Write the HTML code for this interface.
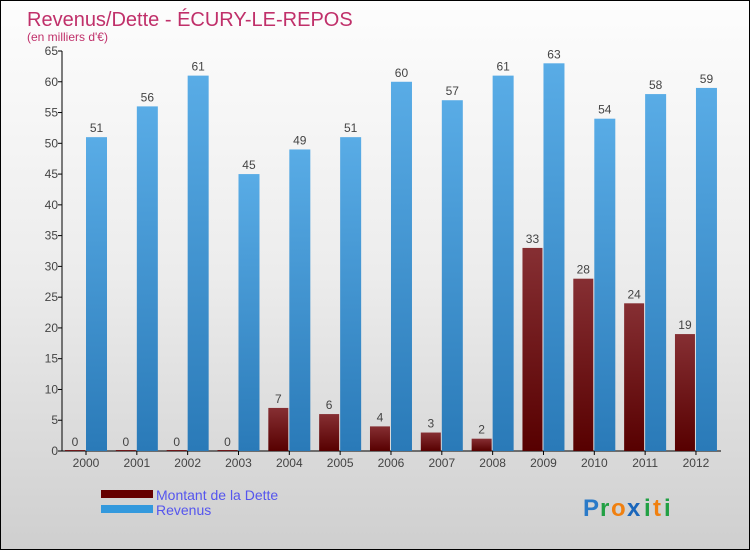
<!DOCTYPE html>
<html><head><meta charset="utf-8">
<style>
body{margin:0;}
#wrap{width:750px;height:550px;position:relative;box-sizing:border-box;border:1px solid #000;background:linear-gradient(#fdfdfd 0%,#ececec 50%,#cfcfcf 100%);font-family:"Liberation Sans",sans-serif;overflow:hidden;}
svg{position:absolute;left:0;top:0;}
</style></head><body>
<div id="wrap">
<svg id="chart" width="750" height="550">
<defs>
<linearGradient id="gDette" x1="0" y1="0" x2="0" y2="1"><stop offset="0" stop-color="#862f33"/><stop offset="1" stop-color="#570000"/></linearGradient>
<linearGradient id="gRev" x1="0" y1="0" x2="0" y2="1"><stop offset="0" stop-color="#59ace6"/><stop offset="1" stop-color="#2a7ab8"/></linearGradient>
</defs>
<text x="26" y="25" font-size="20" fill="#c0306a">Revenus/Dette - ÉCURY-LE-REPOS</text>
<text x="26" y="40" font-size="12" fill="#c0306a">(en milliers d'€)</text>
<g id="axes"></g>
<g id="bars"></g>
<rect x="100" y="489" width="52" height="8" fill="#660000"/>
<text x="155" y="499" font-size="14" fill="#5555ee">Montant de la Dette</text>
<rect x="100" y="504" width="52" height="8" fill="#3399dd"/>
<text x="155" y="514" font-size="14" fill="#5555ee">Revenus</text>
<g font-size="24" font-weight="bold">
<text x="582" y="515" fill="#2a7ac8">P</text><text x="599" y="515" fill="#22a044">r</text><text x="610" y="515" fill="#f08010">o</text><text x="626" y="515" fill="#1a66bb">x</text><text x="643" y="515" fill="#22a044">i</text><text x="652" y="515" fill="#f08010">t</text><text x="663" y="515" fill="#22a044">i</text>
</g>
</svg>
</div>
<script>
const years=["2000","2001","2002","2003","2004","2005","2006","2007","2008","2009","2010","2011","2012"];
const dette=[0,0,0,0,7,6,4,3,2,33,28,24,19];
const revenus=[51,56,61,45,49,51,60,57,61,63,54,58,59];
const yTicks=[0,5,10,15,20,25,30,35,40,45,50,55,60,65];
const NS="http://www.w3.org/2000/svg";
const y0=450,yTop=50,yMax=65,xFirst=85,xStep=50.83,axisX=61;
function yS(v){return y0-(y0-yTop)*v/yMax;}
function xS(i){return xFirst+i*xStep;}
function mk(t,a,p){const e=document.createElementNS(NS,t);for(const k in a)e.setAttribute(k,a[k]);p.appendChild(e);return e;}
const ax=document.getElementById('axes'),bg=document.getElementById('bars');
const yl=mk('line',{x1:axisX,y1:yTop,x2:axisX,y2:y0,stroke:'#000'},ax);


yTicks.forEach(v=>{
 const t=mk('line',{x1:axisX-4,y1:yS(v),x2:axisX,y2:yS(v),stroke:'#000'},ax);
 
 
 const l=mk('text',{x:axisX-4,y:yS(v)+4,'font-size':12,'text-anchor':'end',fill:'#444'},ax);
 l.textContent=v;
 
 
});
const xl=mk('line',{x1:axisX,y1:y0,x2:720,y2:y0,stroke:'#000'},ax);


years.forEach((yr,i)=>{
 const c=xS(i);
 const t=mk('line',{x1:c,y1:y0,x2:c,y2:y0+4,stroke:'#000'},ax);
 
 
 const l=mk('text',{x:c,y:y0+16,'font-size':12,'text-anchor':'middle',fill:'#444'},ax);
 l.textContent=yr;
 
 
 const d=dette[i],r=revenus[i];
 const bd=mk('rect',{x:c-21,y:yS(d)-(d===0?1:0),width:20,height:Math.max(y0-yS(d),1),fill:'url(#gDette)'},bg);
 
 
 const ld=mk('text',{x:c-11,y:yS(d)-5,'font-size':12,'text-anchor':'middle',fill:'#444'},bg);
 ld.textContent=d;
 
 
 const br=mk('rect',{x:c,y:yS(r),width:21,height:y0-yS(r),fill:'url(#gRev)'},bg);
 
 
 const lr=mk('text',{x:c+10.5,y:yS(r)-5,'font-size':12,'text-anchor':'middle',fill:'#444'},bg);
 lr.textContent=r;
 
 
});
</script>
</body></html>
